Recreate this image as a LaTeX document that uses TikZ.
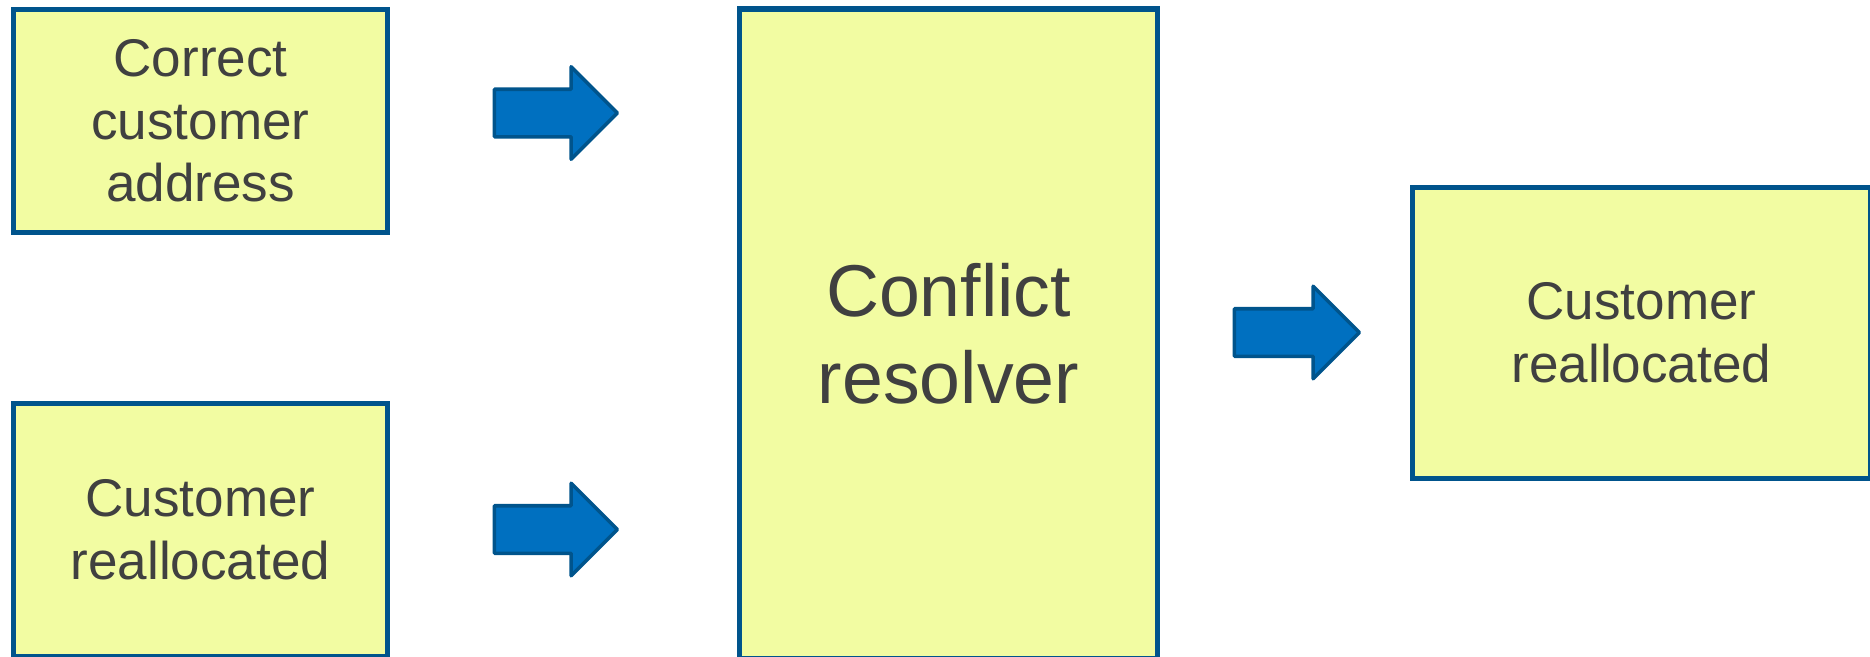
\documentclass[tikz,border=0pt]{standalone}
\usepackage{fontspec}
\setmainfont{Liberation Sans}
\usetikzlibrary{shapes.arrows}

\definecolor{boxfill}{RGB}{242,252,162}
\definecolor{boxline}{RGB}{0,84,140}
\definecolor{arrowfill}{RGB}{0,112,192}
\definecolor{textgray}{RGB}{64,64,64}

\begin{document}
\begin{tikzpicture}[thick,
  box node/.style={rectangle,fill=boxfill,draw=boxline,line width=3pt,text=textgray,align=center,inner sep=0pt,font=\fontsize{30.2}{35.6}\selectfont},
  big node/.style={box node,font=\fontsize{41.8}{49.5}\selectfont},
  arrow node/.style={single arrow,fill=arrowfill,draw=boxline,line width=2pt,line join=round,inner xsep=0pt,inner ysep=0.44cm,
    minimum height=2.46cm,minimum width=1.8cm,single arrow head extend=0.45cm}]

  \useasboundingbox (0,0) rectangle (37.4,13.12);

  % inputs
  \node[box node,minimum width=7.48cm,minimum height=4.46cm] (address) at (4.01,10.70) {Correct\\customer\\address};
  \node[box node,minimum width=7.48cm,minimum height=5.06cm] (moved) at (4.01,2.52) {Customer\\reallocated};

  % resolver in the middle
  \node[big node,minimum width=8.36cm,minimum height=13.0cm] (resolver) at (18.97,6.44) {Conflict\\resolver};

  % output
  \node[box node,minimum width=9.16cm,minimum height=5.82cm] (result) at (32.83,6.46) {Customer\\reallocated};

  % block arrows
  \node[arrow node] (a1) at (10.88,10.86) {};
  \node[arrow node] (a2) at (10.88,2.53) {};
  \node[arrow node,minimum height=2.5cm] (a3) at (25.70,6.47) {};

\end{tikzpicture}
\end{document}
